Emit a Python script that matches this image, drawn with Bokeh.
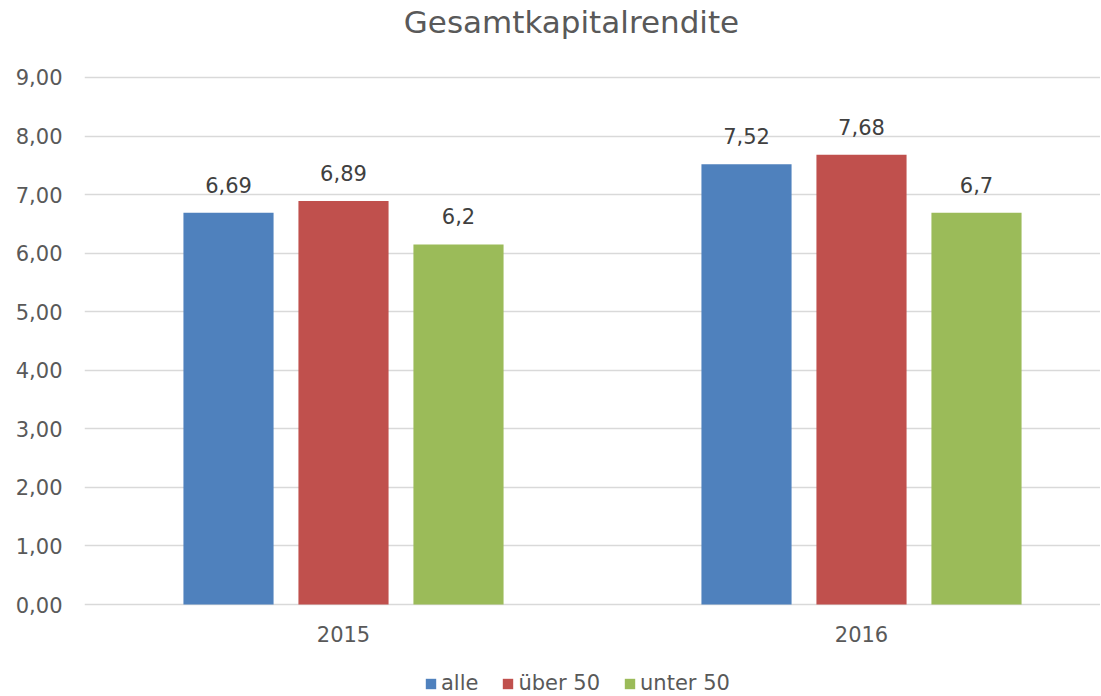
from bokeh.plotting import figure
from bokeh.models import Range1d, ColumnDataSource, Legend, LegendItem, FixedTicker, LabelSet, Label
from bokeh.core.properties import value
from bokeh.embed import file_html
from bokeh.resources import INLINE

title = "Gesamtkapitalrendite"
categories = ["2015", "2016"]
series = ["alle", "über 50", "unter 50"]
alle = [6.69, 7.52]
ueber50 = [6.89, 7.68]
unter50 = [6.15, 6.69]
labels_alle = ["6,69", "7,52"]
labels_ueber50 = ["6,89", "7,68"]
labels_unter50 = ["6,2", "6,7"]
colors = ["#4F81BD", "#C0504D", "#9BBB59"]
y_ticks = [0, 1, 2, 3, 4, 5, 6, 7, 8, 9]

FONT = "DejaVu Sans"
TXT = "#595959"

W, H = 1100, 695
LEFT = 84
PX_PER_UNIT = 58.56
Y_TOP = 9 + 77 / PX_PER_UNIT
Y_BOT = -(H - 604) / PX_PER_UNIT

p = figure(width=W, height=H, output_backend="svg", toolbar_location=None,
           x_range=Range1d(-0.5, -0.5 + (W - LEFT) / 518), y_range=Range1d(Y_BOT, Y_TOP),
           min_border_left=LEFT, min_border_right=0, min_border_top=0, min_border_bottom=0)
p.outline_line_color = None

p.add_layout(Label(x=-0.5 + (571 - LEFT) / 518, y=Y_TOP - 22 / PX_PER_UNIT, text=title,
                   text_align="center", text_baseline="middle", text_font=FONT,
                   text_font_size="31px", text_color=TXT))

offsets = [-0.222, 0.0, 0.222]
vals = [alle, ueber50, unter50]
labs = [labels_alle, labels_ueber50, labels_unter50]
items = []
for i in range(3):
    xs = [j + offsets[i] for j in range(len(categories))]
    src = ColumnDataSource(dict(x=xs, top=vals[i], lab=labs[i]))
    r = p.vbar(x="x", top="top", width=0.174, source=src, fill_color=colors[i], line_color=None)
    items.append(LegendItem(label=series[i], renderers=[r]))
    ls = LabelSet(x="x", y="top", text="lab", source=src, text_align="center", text_baseline="bottom",
                  y_offset=20, text_font=value(FONT), text_font_size="21px", text_color="#404040")
    p.add_layout(ls)

# category labels under the zero line
cat_src = ColumnDataSource(dict(x=list(range(len(categories))), y=[0] * len(categories), lab=categories))
p.add_layout(LabelSet(x="x", y="y", text="lab", source=cat_src, text_align="center", text_baseline="middle",
                      y_offset=-29, text_font=value(FONT), text_font_size="21px", text_color=TXT))

p.xaxis.visible = False
p.yaxis.ticker = FixedTicker(ticks=y_ticks)
p.yaxis.major_label_overrides = {t: f"{t},00" for t in y_ticks}
p.yaxis.axis_line_color = None
p.yaxis.major_tick_line_color = None
p.yaxis.minor_tick_line_color = None
p.yaxis.major_tick_out = 0
p.yaxis.major_tick_in = 0
p.yaxis.major_label_text_font = FONT
p.yaxis.major_label_text_font_size = "21px"
p.yaxis.major_label_text_color = TXT
p.yaxis.major_label_standoff = 22
p.xgrid.grid_line_color = None
p.ygrid.grid_line_color = "#D9D9D9"
p.ygrid.grid_line_width = 1.5
p.ygrid.ticker = FixedTicker(ticks=y_ticks)

legend = Legend(items=items, orientation="horizontal", location=(340, 0),
                glyph_width=13, glyph_height=13, label_text_font=FONT, label_text_font_size="21px",
                label_text_color=TXT, spacing=23, label_standoff=4, border_line_color=None,
                background_fill_alpha=0, padding=0, margin=0)
p.add_layout(legend, "center")

open("out.html", "w").write(file_html(p, INLINE))
